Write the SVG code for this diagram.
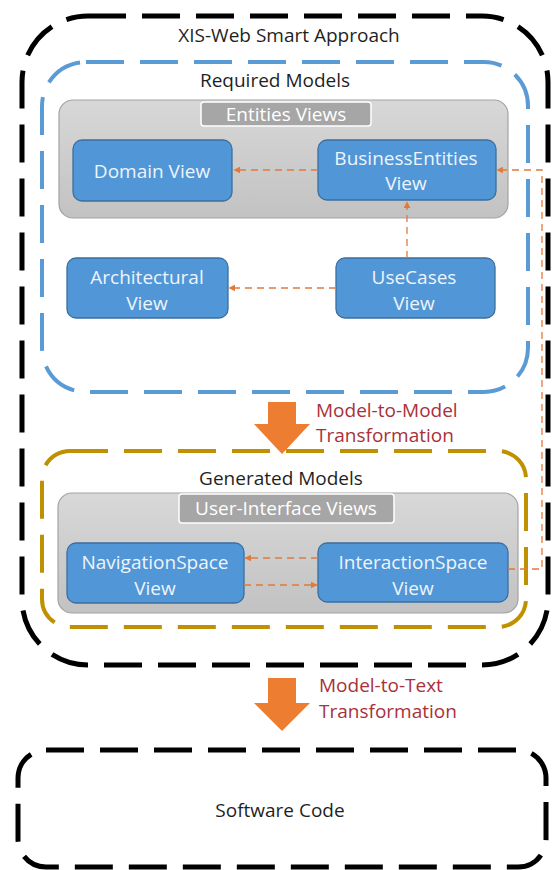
<svg xmlns="http://www.w3.org/2000/svg" width="552" height="870" viewBox="0 0 552 870">
<style>
.t{font-family:"Open Sans","Noto Sans",sans-serif;font-size:19px;fill:#1f1f1f;text-anchor:middle}
.w{fill:#eef4fb}
.lbl{fill:#ffffff}
.red{font-family:"Open Sans","Noto Sans",sans-serif;font-size:19px;fill:#a8313a}
.node{fill:#5196d6;stroke:#3b6f9e;stroke-width:1.3}
.cont{fill:url(#g);stroke:#a3a3a3;stroke-width:1.2}
.tag{fill:#a6a6a6;stroke:#ffffff;stroke-width:1.5}
.dash{fill:none;stroke-dasharray:38 16}
.conn{fill:none;stroke:#e07b3c;stroke-width:1.3;stroke-dasharray:7 5}
.big{fill:#ed7d31}
</style>
<defs>
<linearGradient id="g" x1="0" y1="0" x2="0" y2="1">
<stop offset="0" stop-color="#d8d8d8"/>
<stop offset="1" stop-color="#c2c2c2"/>
</linearGradient>
<marker id="ah" viewBox="0 0 10 10" refX="9" refY="5" markerWidth="7" markerHeight="7" markerUnits="userSpaceOnUse" orient="auto">
<path d="M0,0 L10,5 L0,10 z" fill="#e07b3c"/>
</marker>
</defs>

<g id="containers">
<rect id="xis" class="dash" x="22" y="16" width="526" height="649" rx="66" stroke="#000" stroke-width="5"/>
<rect id="required" class="dash" x="42" y="62" width="486" height="330" rx="44" stroke="#5b9bd5" stroke-width="4"/>
<rect id="generated" class="dash" x="42" y="451" width="484" height="176" rx="28" stroke="#bf9000" stroke-width="4"/>
<rect class="cont" x="59" y="100" width="449" height="118" rx="14"/>
<rect class="tag" x="201" y="102" width="170" height="24" rx="3"/>
<rect class="cont" x="58" y="493" width="460" height="120" rx="14"/>
<rect class="tag" x="179" y="494" width="215" height="29" rx="3"/>
</g>

<g id="titles">
<text class="t" x="289" y="42">XIS-Web Smart Approach</text>
<text class="t" x="275" y="87">Required Models</text>
<text class="t lbl" x="286" y="121">Entities Views</text>
<text class="t" x="281" y="485">Generated Models</text>
<text class="t lbl" x="286" y="515">User-Interface Views</text>
</g>

<g id="domain"><rect class="node" x="73" y="140" width="159" height="61" rx="9"/><text class="t w" x="152" y="178">Domain View</text></g>
<g id="business"><rect class="node" x="318" y="140" width="178" height="60" rx="9"/><text class="t w" x="406" y="165">BusinessEntities</text><text class="t w" x="406" y="190">View</text></g>
<g id="architectural"><rect class="node" x="67" y="258" width="161" height="60" rx="9"/><text class="t w" x="147" y="284">Architectural</text><text class="t w" x="147" y="310">View</text></g>
<g id="usecases"><rect class="node" x="336" y="258" width="159" height="60" rx="9"/><text class="t w" x="414" y="284">UseCases</text><text class="t w" x="414" y="310">View</text></g>
<g id="navigation"><rect class="node" x="67" y="543" width="177" height="60" rx="9"/><text class="t w" x="155" y="569">NavigationSpace</text><text class="t w" x="155" y="595">View</text></g>
<g id="interaction"><rect class="node" x="318" y="543" width="190" height="59" rx="9"/><text class="t w" x="413" y="569">InteractionSpace</text><text class="t w" x="413" y="595">View</text></g>

<g id="connectors">
<path class="conn" d="M318,170 H234" marker-end="url(#ah)"/>
<path class="conn" d="M336,288 H229" marker-end="url(#ah)"/>
<path class="conn" d="M407,258 V202" marker-end="url(#ah)"/>
<path class="conn" d="M318,558 H245" marker-end="url(#ah)"/>
<path class="conn" d="M244,585 H317" marker-end="url(#ah)"/>
<path class="conn" d="M508,569 H542 V170 H497" stroke-width="1" marker-end="url(#ah)"/>
</g>

<g id="m2m">
<path class="big" d="M268,402 H296 V424 H310 L282,454 L254,424 H268 Z"/>
<text class="red" x="316" y="417">Model-to-Model</text>
<text class="red" x="316" y="442">Transformation</text>
</g>
<g id="m2t">
<path class="big" d="M268,678 H296 V703 H310 L282,731 L254,703 H268 Z"/>
<text class="red" x="319" y="692">Model-to-Text</text>
<text class="red" x="319" y="718">Transformation</text>
</g>

<g id="software">
<rect class="dash" x="18" y="750" width="528" height="117" rx="28" stroke="#000" stroke-width="5"/>
<text class="t" x="280" y="817" fill="#333">Software Code</text>
</g>
</svg>
